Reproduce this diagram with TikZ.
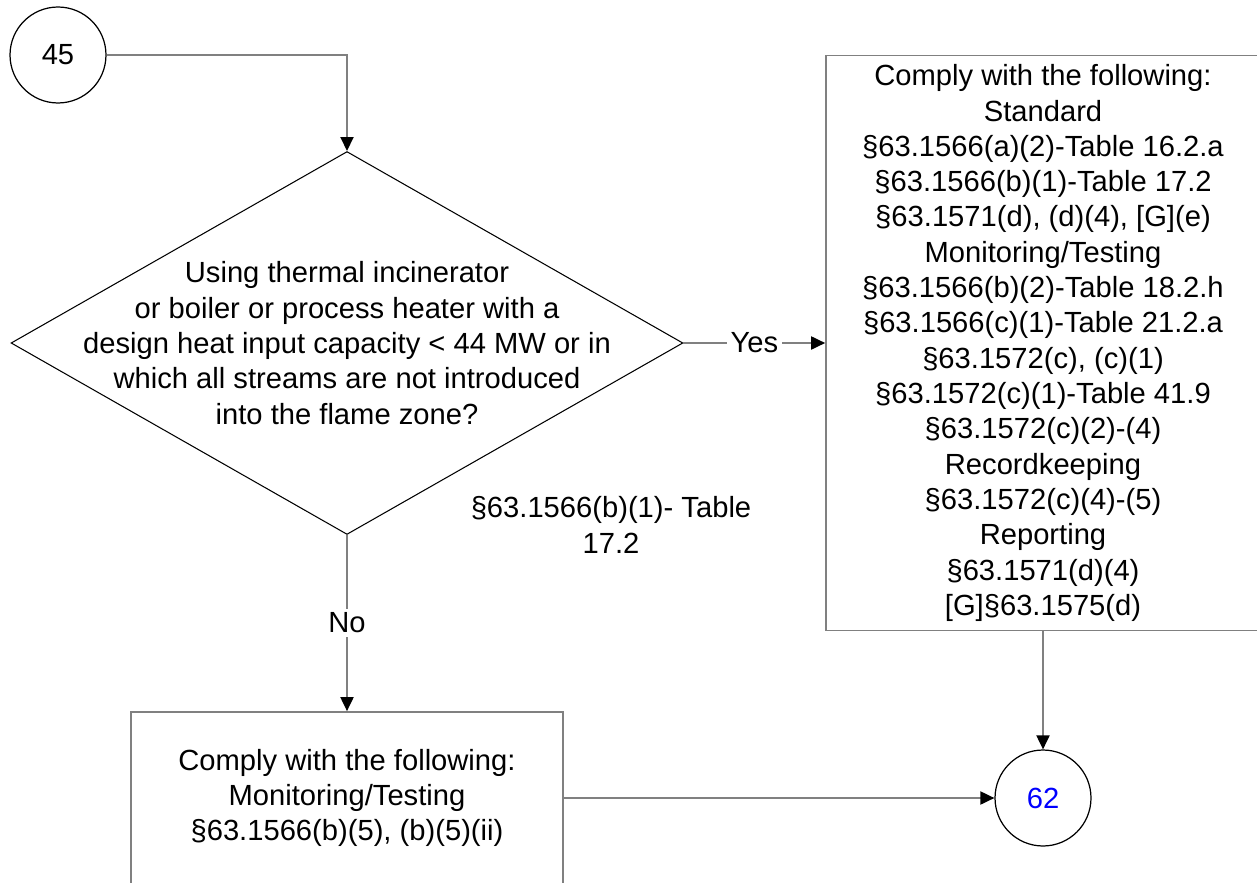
\documentclass[tikz,border=0pt]{standalone}
\usepackage{fontspec}
\setmainfont{Liberation Sans}
\usetikzlibrary{arrows.meta,shapes.geometric}
\definecolor{linegray}{RGB}{128,128,128}
\begin{document}
\begin{tikzpicture}[x=0.02cm,y=-0.02cm,
  every node/.style={font=\fontsize{16.6}{20.1}\selectfont},
  onpage/.style={circle,draw=black,line width=0.7pt,minimum size=1.92cm,inner sep=0pt},
  decision/.style={diamond,draw=black,line width=0.6pt,inner sep=0pt,minimum width=13.44cm,minimum height=7.66cm},
  stepbox/.style={draw=linegray,line width=1pt,align=center,inner sep=0pt},
  flow/.style={draw=linegray,line width=1.1pt,-{Triangle[length=0.28cm,width=0.26cm,color=black]}},
  lbl/.style={fill=white,inner sep=2pt}]
  \useasboundingbox (0,0) rectangle (1257,882);
  \clip (0,0) rectangle (1257,882);
  % connectors and decision
  \node[onpage] (c45) at (58,55) {45};
  \node[decision] (q) at (347,343) {};
  \node[align=center] (qtext) at (q) {Using thermal incinerator\\or boiler or process heater with a\\design heat input capacity < 44 MW or in\\which all streams are not introduced\\into the flame zone?};
  \node[stepbox,minimum width=8.68cm,minimum height=11.5cm] (yesbox) at (1043,343) {Comply with the following:\\Standard\\§63.1566(a)(2)-Table 16.2.a\\§63.1566(b)(1)-Table 17.2\\§63.1571(d), (d)(4), {[G]}(e)\\Monitoring/Testing\\§63.1566(b)(2)-Table 18.2.h\\§63.1566(c)(1)-Table 21.2.a\\§63.1572(c), (c)(1)\\§63.1572(c)(1)-Table 41.9\\§63.1572(c)(2)-(4)\\Recordkeeping\\§63.1572(c)(4)-(5)\\Reporting\\§63.1571(d)(4)\\{[G]}§63.1575(d)};
  \node[stepbox,minimum width=8.64cm,minimum height=3.44cm] (nobox) at (347,798) {Comply with the following:\\Monitoring/Testing\\§63.1566(b)(5), (b)(5)(ii)};
  \node[onpage,text=blue] (c62) at (1043,798) {62};
  \node[align=center] (cite) at (611,525) {§63.1566(b)(1)- Table\\17.2};
  \draw[flow] (c45) -| (q.north);
  \draw[flow] (q.east) -- node[lbl] {Yes} (yesbox.west);
  \draw[flow] (q.south) -- node[lbl] {No} (nobox.north);
  \draw[flow] (yesbox.south) -- (c62.north);
  \draw[flow] (nobox.east) -- (c62.west);
\end{tikzpicture}
\end{document}
